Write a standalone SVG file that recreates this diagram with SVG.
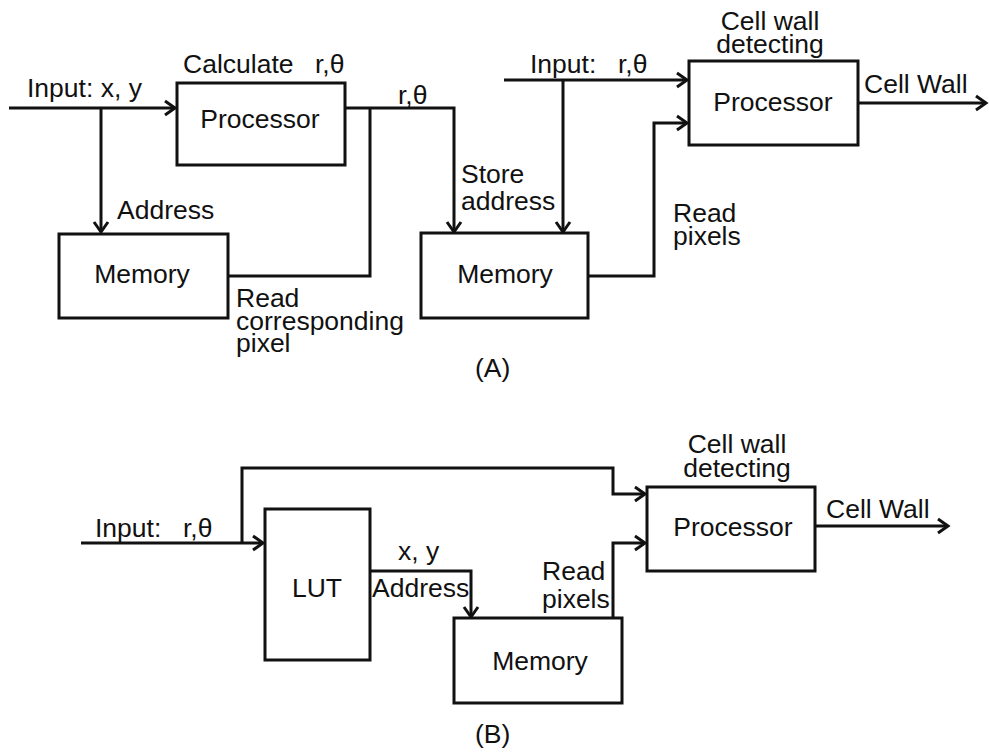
<svg xmlns="http://www.w3.org/2000/svg" width="989" height="755" viewBox="0 0 989 755">
<defs>
<marker id="arr" markerUnits="userSpaceOnUse" viewBox="-12 -8 14 16" refX="0" refY="0" markerWidth="14" markerHeight="16" orient="auto" overflow="visible">
<path d="M-10,-7 L0,0 L-10,7" fill="none" stroke="#111" stroke-width="3" stroke-linejoin="miter"/>
</marker>
<style>
.box{fill:#fff;stroke:#111;stroke-width:3}
.ln{fill:none;stroke:#111;stroke-width:3}
.a{marker-end:url(#arr)}
text{font-family:"Liberation Sans",Arial,sans-serif;font-size:26.5px;fill:#111}
.c{text-anchor:middle}
</style>
</defs>
<rect width="989" height="755" fill="#fff"/>
<g id="connectors">
<path class="ln a" d="M9,108 H175"/>
<path class="ln a" d="M101,108 V232"/>
<path class="ln" d="M228,276 H370 V108"/>
<path class="ln a" d="M345,108 H454 V232"/>
<path class="ln a" d="M504,80 H687"/>
<path class="ln a" d="M563,80 V232"/>
<path class="ln a" d="M588,276 H654 V123 H687"/>
<path class="ln a" d="M858,103 H986"/>
<path class="ln a" d="M81,543 H263"/>
<path class="ln a" d="M242,543 V468 H613 V494 H645"/>
<path class="ln a" d="M370,571 H471 V617"/>
<path class="ln a" d="M613,618 V543 H645"/>
<path class="ln a" d="M815,526 H948"/>
</g>
<g id="processorA1">
<rect class="box" x="177" y="83" width="168" height="82"/>
<text class="c" x="260" y="128">Processor</text>
</g>
<g id="memoryA1">
<rect class="box" x="59" y="234" width="169" height="84"/>
<text class="c" x="142" y="283">Memory</text>
</g>
<g id="memoryA2">
<rect class="box" x="421" y="233" width="167" height="85"/>
<text class="c" x="505" y="283">Memory</text>
</g>
<g id="processorA2">
<rect class="box" x="689" y="61" width="169" height="84"/>
<text class="c" x="773" y="111">Processor</text>
</g>
<g id="lutB">
<rect class="box" x="265" y="509" width="105" height="151"/>
<text class="c" x="317" y="597">LUT</text>
</g>
<g id="memoryB">
<rect class="box" x="454" y="618" width="168" height="85"/>
<text class="c" x="540" y="670">Memory</text>
</g>
<g id="processorB">
<rect class="box" x="647" y="487" width="168" height="84"/>
<text class="c" x="733" y="536">Processor</text>
</g>
<g id="labels">
<text x="27" y="97">Input: x, y</text>
<text x="183" y="73">Calculate</text>
<text x="315" y="73">r,θ</text>
<text x="117" y="219">Address</text>
<text x="398" y="104">r,θ</text>
<text x="236" y="307">Read</text>
<text x="236" y="330">corresponding</text>
<text x="236" y="352">pixel</text>
<text x="461" y="183">Store</text>
<text x="461" y="210">address</text>
<text x="530" y="73">Input:</text>
<text x="618" y="73">r,θ</text>
<text class="c" x="770" y="30">Cell wall</text>
<text class="c" x="770" y="53">detecting</text>
<text x="864" y="93">Cell Wall</text>
<text x="673" y="222">Read</text>
<text x="673" y="245">pixels</text>
<text x="475" y="377">(A)</text>
<text x="95" y="537">Input:</text>
<text x="183" y="537">r,θ</text>
<text x="398" y="560">x, y</text>
<text x="372" y="597">Address</text>
<text x="542" y="580">Read</text>
<text x="542" y="608">pixels</text>
<text class="c" x="737" y="453">Cell wall</text>
<text class="c" x="737" y="477">detecting</text>
<text x="826" y="518">Cell Wall</text>
<text x="475" y="743">(B)</text>
</g>
</svg>
